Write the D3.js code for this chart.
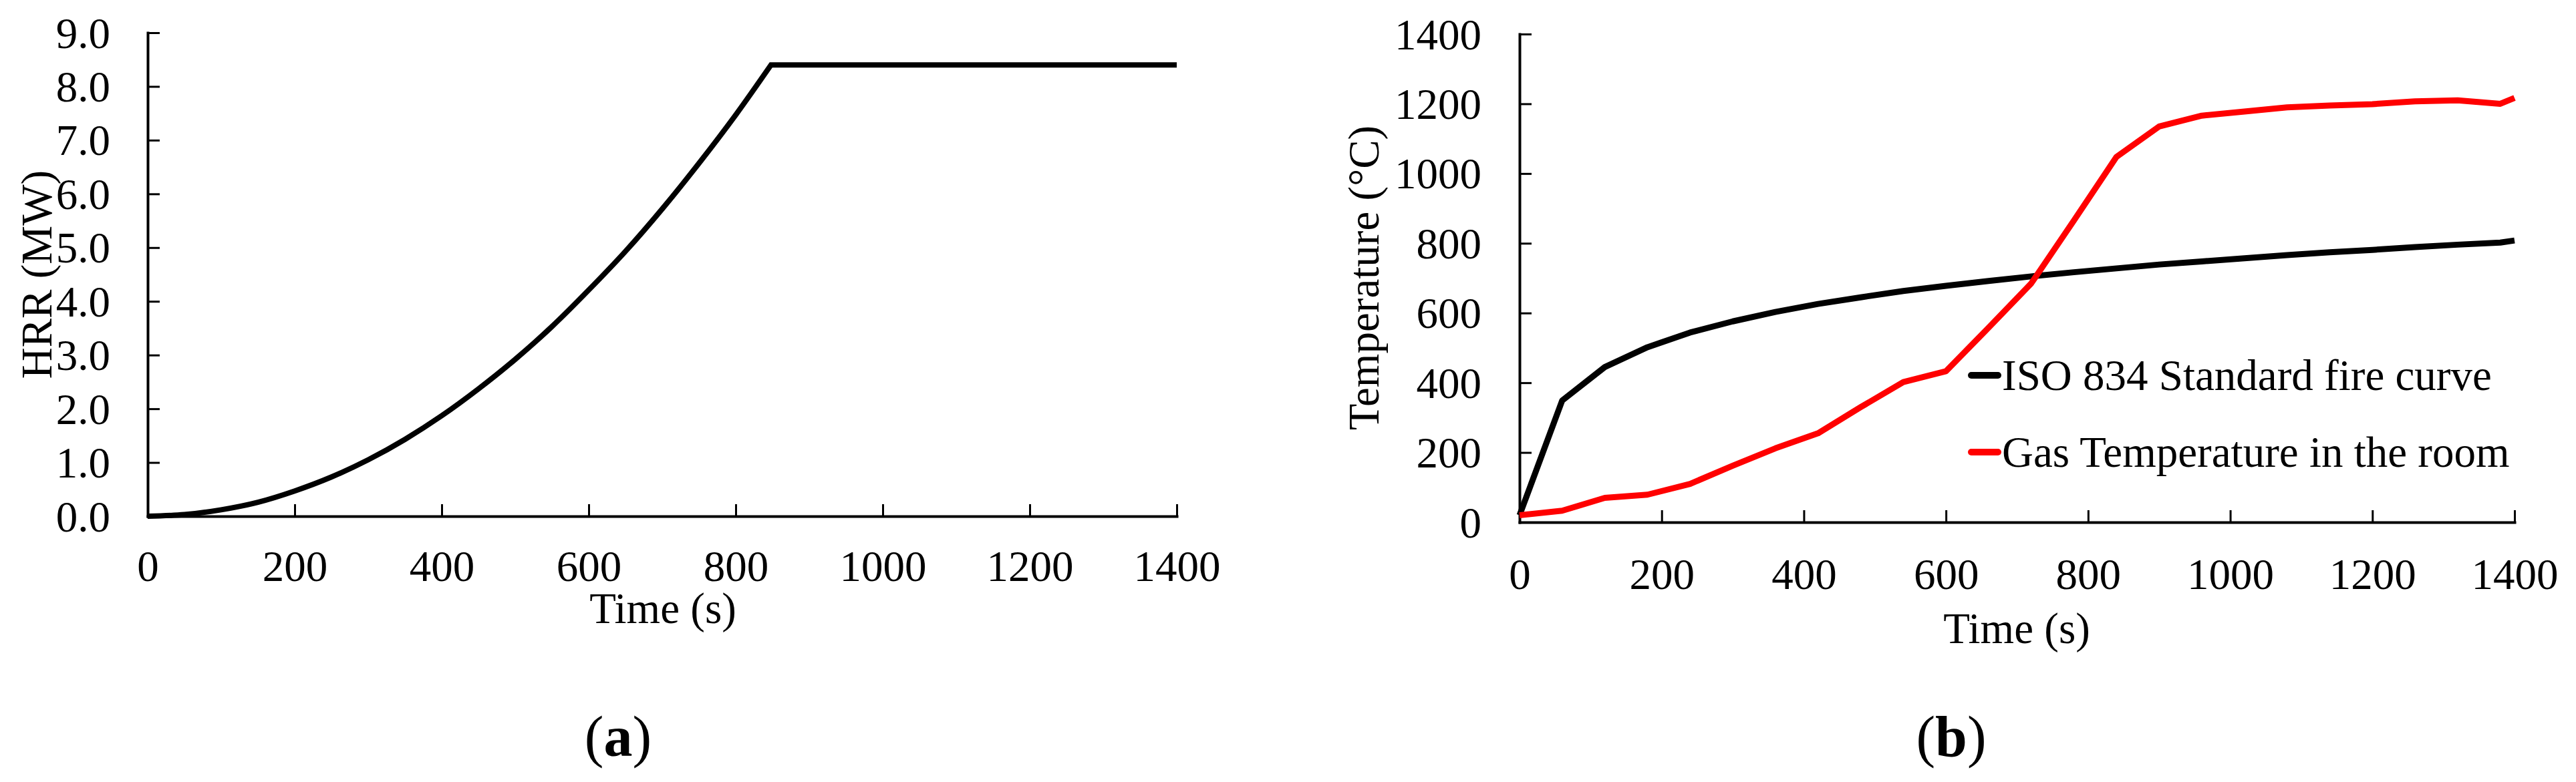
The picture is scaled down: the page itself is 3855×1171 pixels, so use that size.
<!DOCTYPE html>
<html>
<head>
<meta charset="utf-8">
<script src="https://cdn.jsdelivr.net/npm/d3@7"></script>
<style>
  html, body { margin: 0; padding: 0; background: #fff; }
  svg { display: block; }
  text { font-family: "Liberation Serif", "Times New Roman", Times, serif; fill: #000; }
</style>
</head>
<body>
<svg id="chart" width="3855" height="1171"></svg>
<script>
// ---------- data ----------
// (a) Heat release rate
const hrrTime = [0, 50, 100, 150, 200, 250, 300, 350, 400, 450, 500, 550, 600, 650, 700, 750, 800, 848, 1400];
const hrrValue = [0, 0.03, 0.12, 0.26, 0.47, 0.73, 1.05, 1.43, 1.87, 2.37, 2.92, 3.53, 4.21, 4.93, 5.72, 6.57, 7.47, 8.4, 8.4];

// (b) Temperatures
const tempTime = [0, 60, 120, 180, 240, 300, 360, 420, 480, 540, 600, 660, 720, 780, 840, 900, 960, 1020, 1080, 1140, 1200, 1260, 1320, 1380, 1400];
const isoTemp = [20, 349, 445, 502, 544, 576, 603, 626, 645, 663, 678, 692, 705, 717, 728, 739, 748, 757, 766, 774, 781, 789, 796, 802, 808];
const gasTemp = [20, 33, 70, 79, 110, 162, 212, 255, 330, 402, 433, 558, 685, 865, 1048, 1135, 1166, 1178, 1190, 1195, 1199, 1207, 1210, 1200, 1217];

const timeTicks = [0, 200, 400, 600, 800, 1000, 1200, 1400];
const hrrTicks = [0, 1, 2, 3, 4, 5, 6, 7, 8, 9];
const tempTicks = [0, 200, 400, 600, 800, 1000, 1200, 1400];

const seriesNames = ["ISO 834 Standard fire curve", "Gas Temperature in the room"];
const seriesColors = ["#000000", "#ff0000"];

// ---------- drawing ----------
const svg = d3.select("#chart");
const FS = 65;

function styleAxis(g) {
  g.select(".domain").attr("stroke", "#000").attr("stroke-width", 4).attr("stroke-linecap", "square");
  g.selectAll(".tick line").attr("stroke", "#000").attr("stroke-width", 3);
  g.selectAll(".tick text").attr("font-size", FS).attr("font-family", "Liberation Serif, Times New Roman, serif").attr("fill", "#000");
}

// ----- panel (a) -----
const xA = d3.scaleLinear().domain([0, 1400]).range([221, 1761]);
const yA = d3.scaleLinear().domain([0, 9]).range([773, 49]);

const gxA = svg.append("g").attr("transform", `translate(0,${yA(0)})`)
  .call(d3.axisBottom(xA).tickValues(timeTicks).tickSizeInner(-18).tickSizeOuter(0).tickFormat(d3.format("d")));
styleAxis(gxA);
gxA.selectAll(".tick text").attr("y", 97).attr("dy", 0);

const gyA = svg.append("g").attr("transform", `translate(${xA(0)},0)`)
  .call(d3.axisLeft(yA).tickValues(hrrTicks).tickSizeInner(-18).tickSizeOuter(0).tickPadding(56).tickFormat(d3.format(".1f")));
styleAxis(gyA);
gyA.selectAll(".tick text").attr("dy", "0.34em");

const hrrData = hrrTime.map((t, i) => ({ t, v: hrrValue[i] }));
const peakIdx = hrrValue.indexOf(d3.max(hrrValue));
const rising = hrrData.slice(0, peakIdx + 1);
const plateau = hrrData.slice(peakIdx);
const risingPath = d3.line().x(d => xA(d.t)).y(d => yA(d.v)).curve(d3.curveMonotoneX)(rising);
const plateauPath = plateau.slice(1).map(d => `L${xA(d.t)},${yA(d.v)}`).join("");
svg.append("path")
  .attr("fill", "none").attr("stroke", "#000").attr("stroke-width", 8)
  .attr("stroke-linejoin", "miter")
  .attr("d", risingPath + plateauPath);

svg.append("text").attr("x", 992).attr("y", 933).attr("text-anchor", "middle").attr("font-size", FS).text("Time (s)");
svg.append("text").attr("transform", "translate(77,411) rotate(-90)").attr("text-anchor", "middle").attr("font-size", FS).text("HRR (MW)");

const capA = svg.append("text").attr("x", 925).attr("y", 1132).attr("text-anchor", "middle").attr("font-size", 86);
capA.append("tspan").text("(");
capA.append("tspan").attr("font-weight", "bold").text("a");
capA.append("tspan").text(")");

// ----- panel (b) -----
const xB = d3.scaleLinear().domain([0, 1400]).range([2274, 3763]);
const yB = d3.scaleLinear().domain([0, 1400]).range([782, 51]);

const gxB = svg.append("g").attr("transform", `translate(0,${yB(0)})`)
  .call(d3.axisBottom(xB).tickValues(timeTicks).tickSizeInner(-18).tickSizeOuter(0).tickFormat(d3.format("d")));
styleAxis(gxB);
gxB.selectAll(".tick text").attr("y", 100).attr("dy", 0);

const gyB = svg.append("g").attr("transform", `translate(${xB(0)},0)`)
  .call(d3.axisLeft(yB).tickValues(tempTicks).tickSizeInner(-18).tickSizeOuter(0).tickPadding(57).tickFormat(d3.format("d")));
styleAxis(gyB);
gyB.selectAll(".tick text").attr("dy", "0.34em");

const lineB = d3.line().x(d => xB(d.t)).y(d => yB(d.v));
const isoData = tempTime.map((t, i) => ({ t, v: isoTemp[i] }));
const gasData = tempTime.map((t, i) => ({ t, v: gasTemp[i] }));

svg.append("path").datum(isoData)
  .attr("fill", "none").attr("stroke", seriesColors[0]).attr("stroke-width", 9)
  .attr("stroke-linejoin", "round").attr("d", lineB);
svg.append("path").datum(gasData)
  .attr("fill", "none").attr("stroke", seriesColors[1]).attr("stroke-width", 9)
  .attr("stroke-linejoin", "round").attr("d", lineB);

svg.append("text").attr("x", 3018).attr("y", 963).attr("text-anchor", "middle").attr("font-size", FS).text("Time (s)");
svg.append("text").attr("transform", "translate(2063,416) rotate(-90)").attr("text-anchor", "middle").attr("font-size", FS).text("Temperature (°C)");

// legend
const legendY = [562, 677];
seriesNames.forEach((name, i) => {
  svg.append("line").attr("x1", 2950).attr("x2", 2990).attr("y1", legendY[i]).attr("y2", legendY[i])
    .attr("stroke", seriesColors[i]).attr("stroke-width", 10).attr("stroke-linecap", "round");
  svg.append("text").attr("x", 2996).attr("y", legendY[i] + 22).attr("font-size", FS).text(name);
});

const capB = svg.append("text").attr("x", 2920).attr("y", 1132).attr("text-anchor", "middle").attr("font-size", 86);
capB.append("tspan").text("(");
capB.append("tspan").attr("font-weight", "bold").text("b");
capB.append("tspan").text(")");
</script>
</body>
</html>
